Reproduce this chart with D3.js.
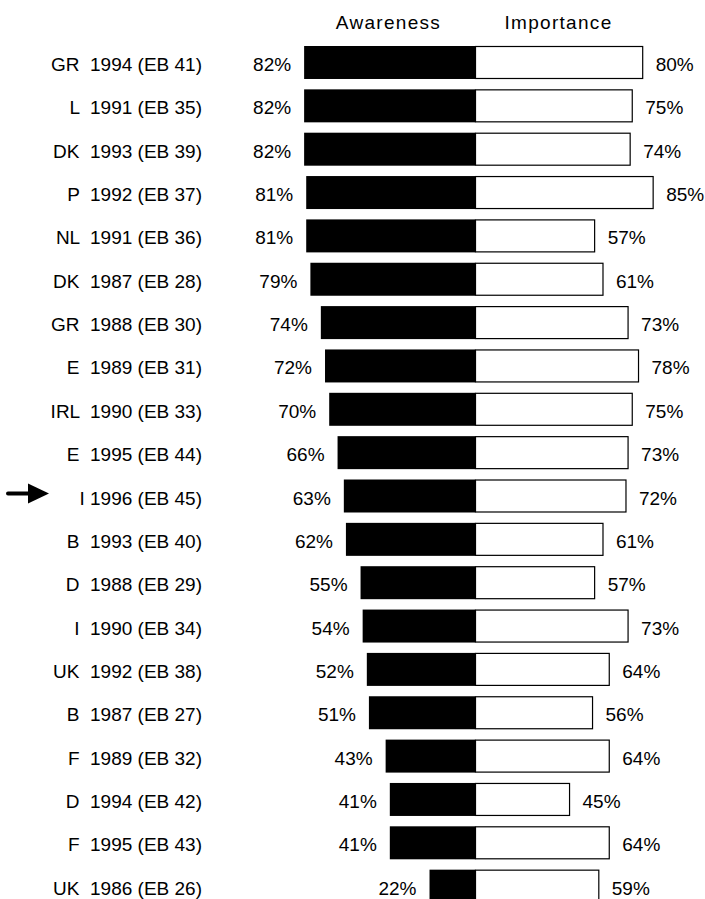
<!DOCTYPE html>
<html lang="en">
  <head>
    <meta charset="UTF-8" />
    <title>Awareness and Importance</title>
    <style>
      body { margin: 0; background: #fff; }
      svg text { font-family: "Liberation Sans", Arial, sans-serif; font-size: 19px; fill: #000; white-space: pre; }
    </style>
  </head>
  <body>
    <script src="https://cdn.jsdelivr.net/npm/d3@7"></script>
    <script>
      // survey rows, top to bottom
      var labels = ["GR  1994 (EB 41)", "L  1991 (EB 35)", "DK  1993 (EB 39)", "P  1992 (EB 37)",
                    "NL  1991 (EB 36)", "DK  1987 (EB 28)", "GR  1988 (EB 30)", "E  1989 (EB 31)",
                    "IRL  1990 (EB 33)", "E  1995 (EB 44)", "I 1996 (EB 45)", "B  1993 (EB 40)",
                    "D  1988 (EB 29)", "I  1990 (EB 34)", "UK  1992 (EB 38)", "B  1987 (EB 27)",
                    "F  1989 (EB 32)", "D  1994 (EB 42)", "F  1995 (EB 43)", "UK  1986 (EB 26)"];
      var awareness = [82, 82, 82, 81, 81, 79, 74, 72, 70, 66, 63, 62, 55, 54, 52, 51, 43, 41, 41, 22];
      var importance = [80, 75, 74, 85, 57, 61, 73, 78, 75, 73, 72, 61, 57, 73, 64, 56, 64, 45, 64, 59];
      var headers = ["Awareness", "Importance"];
      var highlighted = "I 1996 (EB 45)";

      var w = 705, h = 899;
      var center = 475.5;

      var data = labels.map(function(d, i) {
        return { label: d, aware: awareness[i], imp: importance[i] };
      });

      var svg = d3.select("body").append("svg")
                  .attr("width", w)
                  .attr("height", h);

      var len = d3.scaleLinear().domain([0, 100]).range([0, 209]);

      var y = d3.scaleBand()
                .domain(labels)
                .range([46, 46 + 19 * 43.35 + 33])
                .paddingInner(0.239)
                .paddingOuter(0);

      // headers
      svg.selectAll("text.header")
         .data(headers)
         .enter()
         .append("text")
         .attr("class", "header")
         .attr("x", function(d, i) { return i == 0 ? center - 87 : center + 83; })
         .attr("y", 29)
         .attr("text-anchor", "middle")
         .style("letter-spacing", "1.3px")
         .text(function(d) { return d; });

      var row = svg.selectAll("g.row")
                   .data(data)
                   .enter()
                   .append("g")
                   .attr("class", "row")
                   .attr("transform", function(d) { return "translate(0," + y(d.label) + ")"; });

      // awareness bars, going left
      row.append("rect")
         .attr("x", function(d) { return center - len(d.aware); })
         .attr("y", 0)
         .attr("width", function(d) { return len(d.aware); })
         .attr("height", y.bandwidth())
         .attr("fill", "#000");

      // importance bars, going right
      row.append("rect")
         .attr("x", center)
         .attr("y", 0.5)
         .attr("width", function(d) { return len(d.imp); })
         .attr("height", y.bandwidth() - 1)
         .attr("fill", "#fff")
         .attr("stroke", "#000")
         .attr("stroke-width", 1.2);

      var base = 25;

      row.append("text")
         .attr("x", 202)
         .attr("y", base)
         .attr("text-anchor", "end")
         .text(function(d) { return d.label; });

      row.append("text")
         .attr("x", function(d) { return center - len(d.aware) - 13; })
         .attr("y", base)
         .attr("text-anchor", "end")
         .text(function(d) { return d.aware + "%"; });

      row.append("text")
         .attr("x", function(d) { return center + len(d.imp) + 13; })
         .attr("y", base)
         .attr("text-anchor", "start")
         .text(function(d) { return d.imp + "%"; });

      // arrow pointing at the highlighted survey
      var ay = y(highlighted) + 14;
      svg.append("line")
         .attr("x1", 8)
         .attr("x2", 34)
         .attr("y1", ay)
         .attr("y2", ay)
         .attr("stroke", "#000")
         .attr("stroke-width", 4)
         .attr("stroke-linecap", "round");
      svg.append("path")
         .attr("d", "M28," + (ay - 10) + " L49," + ay + " L28," + (ay + 10) + " Z")
         .attr("fill", "#000");
    </script>
  </body>
</html>
